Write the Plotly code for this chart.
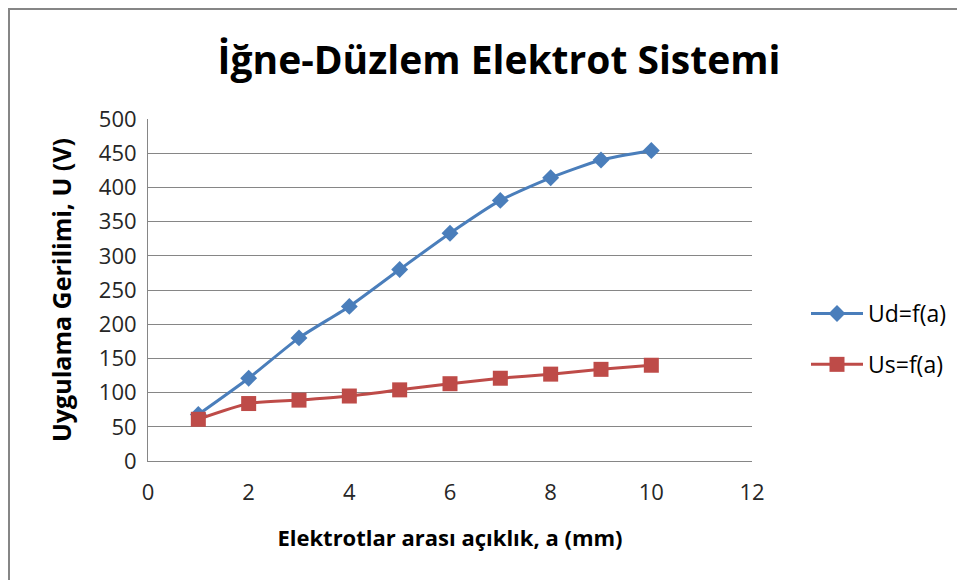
import plotly.graph_objects as go

# data
a_mm = [1, 2, 3, 4, 5, 6, 7, 8, 9, 10]
ud = [68, 121, 180, 226, 280, 333, 381, 414, 440, 454]
us = [61, 84, 89, 95, 104, 113, 121, 127, 134, 140]

# page body adds an 8px offset, so margins are shifted to compensate
OFF = 8
W, H = 965, 580
L, T = 148 - OFF, 119 - OFF
pw, ph = 604, 342
R, B = W - L - pw, H - T - ph

fig = go.Figure()
fig.add_trace(go.Scatter(x=a_mm, y=ud, name="Ud=f(a)", mode="lines+markers",
                         legendgroup="ud",
                         line=dict(color="#4a7ebb", width=3, shape="spline", smoothing=0.6),
                         marker=dict(symbol="diamond", size=13, color="#4a7ebb")))
fig.add_trace(go.Scatter(x=a_mm, y=us, name="Us=f(a)", mode="lines+markers",
                         legendgroup="us",
                         line=dict(color="#be4b48", width=3, shape="spline", smoothing=0.6),
                         marker=dict(symbol="square", size=15, color="#be4b48")))

font = "Open Sans, Lato, sans-serif"
fig.layout.update(
    width=W, height=H,
    margin=dict(l=L, r=R, t=T, b=B),
    paper_bgcolor="white", plot_bgcolor="white",
    font=dict(family=font, color="#262626", size=22),
    title=dict(text="<b>İğne-Düzlem Elektrot Sistemi</b>", x=(499 - OFF) / W, xref="container",
               xanchor="center", y=1 - (60 - OFF) / H, yanchor="middle",
               font=dict(size=39, color="black")),
    xaxis=dict(range=[0, 12], dtick=2, showgrid=False, zeroline=False,
               showline=True, linecolor="#868686", linewidth=1, ticks="",
               ticklabelstandoff=12, tickfont=dict(size=22),
               title=dict(text="<b>Elektrotlar arası açıklık, a (mm)</b>", standoff=25,
                          font=dict(size=22, color="black"))),
    yaxis=dict(range=[0, 500], dtick=50, showgrid=True, gridcolor="#868686", gridwidth=1,
               zeroline=False, showline=True, linecolor="#868686", linewidth=1,
               ticks="", ticklabelstandoff=6, tickfont=dict(size=22),
               title=dict(text="<b>Uygulama Gerilimi, U (V)</b>", standoff=20,
                          font=dict(size=25, color="black"))),
    legend=dict(x=(806 - OFF - L) / pw, y=(H - B - (339 - OFF)) / ph,
                xanchor="left", yanchor="middle", itemwidth=52,
                font=dict(size=23, color="black"), tracegroupgap=18),
    showlegend=True,
)

# outer chart border (sits right at the top-left page edge in the reference)
fig.add_shape(type="rect", xref="paper", yref="paper",
              x0=(1 - L) / pw, x1=(W + 5 - L) / pw,
              y0=-(B + 10) / ph, y1=(ph + T - 1) / ph,
              line=dict(color="#868686", width=2), layer="below")

fig.write_html("out.html")
